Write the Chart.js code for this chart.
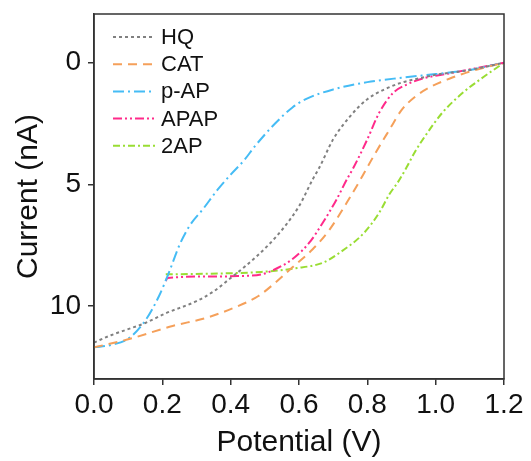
<!DOCTYPE html>
<html>
<head>
<meta charset="utf-8">
<script src="https://cdn.jsdelivr.net/npm/chart.js@4"></script>
<style>
  html, body { margin: 0; padding: 0; background: #fff; }
  #wrap { width: 531px; height: 461px; }
</style>
</head>
<body>
<div id="wrap"><canvas id="ivChart" width="531" height="461"></canvas></div>
<script>
// ─── DATOS ────────────────────────────────────────────
const seriesNames = ['HQ', 'CAT', 'p-AP', 'APAP', '2AP'];
const xTicks = [0, 0.2, 0.4, 0.6, 0.8, 1.0, 1.2];
const yTicks = [0, 5, 10];

const hqX = [0, 0.05, 0.10, 0.15, 0.21, 0.30, 0.35, 0.40, 0.44, 0.51, 0.56, 0.60, 0.64, 0.66, 0.70, 0.75, 0.80, 0.85, 0.90, 0.95, 1.0, 1.1, 1.2];
const hqY = [11.5, 11.2, 10.95, 10.7, 10.3, 9.8, 9.4, 8.85, 8.4, 7.5, 6.7, 5.9, 4.8, 4.3, 3.15, 2.2, 1.5, 1.1, 0.82, 0.65, 0.5, 0.3, 0];

const catX = [0, 0.10, 0.23, 0.33, 0.41, 0.48, 0.53, 0.58, 0.64, 0.69, 0.74, 0.78, 0.82, 0.865, 0.90, 0.94, 0.99, 1.04, 1.09, 1.2];
const catY = [11.7, 11.37, 10.82, 10.48, 10.07, 9.6, 9.05, 8.42, 7.67, 6.85, 5.75, 4.8, 3.8, 2.75, 1.95, 1.4, 0.96, 0.66, 0.41, 0];

const papX = [0, 0.05, 0.10, 0.15, 0.19, 0.22, 0.25, 0.28, 0.32, 0.36, 0.40, 0.44, 0.47, 0.53, 0.58, 0.62, 0.70, 0.80, 0.90, 1.0, 1.1, 1.2];
const papY = [11.7, 11.6, 11.35, 10.6, 9.6, 8.6, 7.5, 6.7, 6.0, 5.25, 4.6, 4.0, 3.45, 2.5, 1.85, 1.5, 1.1, 0.8, 0.62, 0.47, 0.3, 0];

const apapX = [0.21, 0.215, 0.33, 0.42, 0.49, 0.53, 0.58, 0.63, 0.67, 0.71, 0.74, 0.76, 0.80, 0.835, 0.875, 0.915, 0.96, 1.04, 1.2];
const apapY = [8.97, 8.85, 8.79, 8.77, 8.70, 8.49, 8.08, 7.40, 6.57, 5.62, 4.8, 4.3, 3.15, 2.05, 1.25, 0.9, 0.66, 0.44, 0];

const ap2X = [0.21, 0.375, 0.49, 0.59, 0.67, 0.72, 0.79, 0.835, 0.865, 0.89, 0.915, 0.94, 0.97, 1.02, 1.08, 1.13, 1.2];
const ap2Y = [8.70, 8.66, 8.60, 8.45, 8.22, 7.8, 7.0, 6.16, 5.4, 4.9, 4.3, 3.65, 3.0, 2.05, 1.23, 0.69, 0];

// ─── ESTILOS ──────────────────────────────────────────
const colors = ['#808080', '#F5A05A', '#45BCF5', '#FF2A8A', '#99DD33'];
const dashes = [[3, 3], [9, 6], [11, 4, 2, 4], [9, 3, 2, 3, 2, 3], [7, 3, 2, 3]];
const FONT = '"Liberation Sans", Arial, sans-serif';

const toPoints = (xs, ys) => xs.map((x, i) => ({ x: x, y: ys[i] }));
const allX = [hqX, catX, papX, apapX, ap2X];
const allY = [hqY, catY, papY, apapY, ap2Y];

// Leyenda y marco dibujados a mano
const frameLegend = {
    id: 'frameLegend',
    afterDraw(chart) {
        const { ctx, chartArea: a } = chart;
        ctx.save();
        ctx.strokeStyle = '#333';
        ctx.lineWidth = 1.5;
        ctx.strokeRect(a.left, a.top, a.right - a.left, a.bottom - a.top);

        ctx.font = '22px ' + FONT;
        ctx.textBaseline = 'middle';
        seriesNames.forEach((name, i) => {
            const y = 37 + i * 27.2;
            ctx.strokeStyle = colors[i];
            ctx.lineWidth = 2;
            ctx.setLineDash(dashes[i]);
            ctx.beginPath();
            ctx.moveTo(113, y);
            ctx.lineTo(155, y);
            ctx.stroke();
            ctx.setLineDash([]);
            ctx.fillStyle = '#111';
            ctx.fillText(name, 161, y + 1);
        });
        ctx.restore();
    }
};

new Chart(document.getElementById('ivChart').getContext('2d'), {
    type: 'scatter',
    data: {
        datasets: seriesNames.map((name, i) => ({
            label: name,
            data: toPoints(allX[i], allY[i]),
            showLine: true,
            borderColor: colors[i],
            borderWidth: 2,
            borderDash: dashes[i],
            pointRadius: 0,
            cubicInterpolationMode: 'monotone',
            fill: false
        }))
    },
    options: {
        responsive: false,
        animation: false,
        layout: { padding: { top: 14, right: 27, left: 0, bottom: 0 } },
        plugins: { legend: { display: false }, tooltip: { enabled: false } },
        scales: {
            x: {
                type: 'linear',
                min: 0,
                max: 1.2,
                afterBuildTicks: s => { s.ticks = xTicks.map(v => ({ value: v })); },
                afterFit: s => { s.height = 82; s.paddingLeft = 0; s.paddingRight = 0; },
                border: { color: '#333', width: 1.5 },
                grid: { drawOnChartArea: false, drawTicks: true, tickLength: 6, color: '#333', lineWidth: 1.5 },
                ticks: {
                    color: '#111',
                    padding: 3,
                    maxRotation: 0,
                    font: { family: FONT, size: 28 },
                    callback: v => Number(v).toFixed(1)
                },
                title: {
                    display: true,
                    text: 'Potential (V)',
                    color: '#111',
                    font: { family: FONT, size: 30 },
                    padding: { top: 0, bottom: 0 }
                }
            },
            y: {
                type: 'linear',
                reverse: true,
                min: -2,
                max: 13,
                afterBuildTicks: s => { s.ticks = yTicks.map(v => ({ value: v })); },
                afterFit: s => { s.width = 94; s.paddingTop = 0; s.paddingBottom = 0; },
                border: { color: '#333', width: 1.5 },
                grid: { drawOnChartArea: false, drawTicks: true, tickLength: 6, color: '#333', lineWidth: 1.5 },
                ticks: {
                    color: '#111',
                    padding: 7,
                    font: { family: FONT, size: 28 }
                },
                title: {
                    display: true,
                    text: 'Current (nA)',
                    color: '#111',
                    font: { family: FONT, size: 30 },
                    padding: { top: 11, bottom: 0 }
                }
            }
        }
    },
    plugins: [frameLegend]
});
</script>
</body>
</html>
